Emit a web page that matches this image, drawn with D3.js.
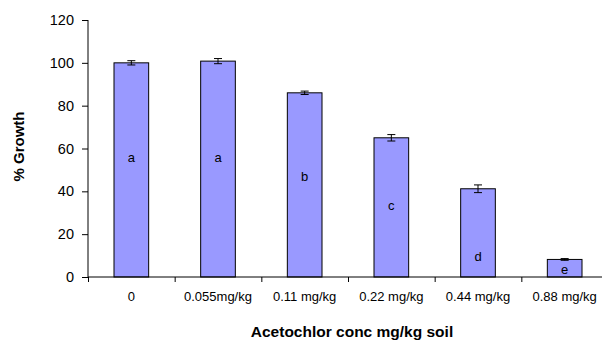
<!DOCTYPE html>
<html>
<head>
<meta charset="utf-8">
<script src="https://cdn.jsdelivr.net/npm/d3@7"></script>
<style>
  body { margin: 0; background: #fff; }
  text { font-family: "Liberation Sans", Arial, sans-serif; }
</style>
</head>
<body>
<div id="graph"></div>
<script>
var categories = ["0", "0.055mg/kg", "0.11 mg/kg", "0.22 mg/kg", "0.44 mg/kg", "0.88 mg/kg"],
    growth = [100, 100.8, 86, 65, 41.2, 8.2],
    errors = [1, 1.2, 0.8, 1.5, 1.8, 0.4],
    letters = ["a", "a", "b", "c", "d", "e"],
    letterPos = [56, 56, 47, 33.5, 9.5, 3.7],
    yTicks = [0, 20, 40, 60, 80, 100, 120];

var margin = {top: 20, right: -6, bottom: 63, left: 88},
    width = 602 - margin.left - margin.right,
    height = 340 - margin.top - margin.bottom;

var svg = d3.select("#graph").append("svg")
    .attr("width", 602)
    .attr("height", 340)
  .append("g")
    .attr("transform", "translate(" + margin.left + "," + margin.top + ")");

var x = d3.scaleBand()
    .domain(categories)
    .range([0, width])
    .paddingInner(0.6)
    .paddingOuter(0.3);

var xAxisScale = d3.scaleLinear().domain([0, categories.length]).range([0, width]);

var y = d3.scaleLinear()
    .domain([0, 120])
    .range([height, 0]);

var data = d3.zip(categories, growth, errors, letters, letterPos).map(function(d) {
  return {cat: d[0], v: d[1], err: d[2], letter: d[3], lp: d[4]};
});

// bars
svg.selectAll(".bar")
    .data(data)
  .enter().append("rect")
    .attr("class", "bar")
    .attr("x", function(d) { return x(d.cat); })
    .attr("width", x.bandwidth())
    .attr("y", function(d) { return y(d.v); })
    .attr("height", function(d) { return height - y(d.v); })
    .attr("fill", "#9999ff")
    .attr("stroke", "#000")
    .attr("stroke-width", 1);

// error bars
var eb = svg.selectAll(".err")
    .data(data)
  .enter().append("g")
    .attr("class", "err")
    .attr("stroke", "#000")
    .attr("stroke-width", 1);

eb.append("line")
    .attr("x1", function(d) { return x(d.cat) + x.bandwidth() / 2; })
    .attr("x2", function(d) { return x(d.cat) + x.bandwidth() / 2; })
    .attr("y1", function(d) { return y(d.v + d.err); })
    .attr("y2", function(d) { return y(d.v - d.err); });

[1, -1].forEach(function(s) {
  eb.append("line")
      .attr("x1", function(d) { return x(d.cat) + x.bandwidth() / 2 - 4; })
      .attr("x2", function(d) { return x(d.cat) + x.bandwidth() / 2 + 4; })
      .attr("y1", function(d) { return y(d.v + s * d.err); })
      .attr("y2", function(d) { return y(d.v + s * d.err); });
});

// letters
svg.selectAll(".letter")
    .data(data)
  .enter().append("text")
    .attr("class", "letter")
    .attr("x", function(d) { return x(d.cat) + x.bandwidth() / 2; })
    .attr("y", function(d) { return y(d.lp); })
    .attr("dy", "0.35em")
    .attr("text-anchor", "middle")
    .style("font-size", "13px")
    .text(function(d) { return d.letter; });

// y axis
var yAxis = svg.append("g")
    .call(d3.axisLeft(y).tickValues(yTicks).tickSize(6).tickPadding(8));
yAxis.selectAll("text").style("font-size", "14.5px").attr("fill", "#000");
yAxis.select(".domain").attr("d", "M0," + y(120) + "V" + height);

// x axis
var xAxis = svg.append("g")
    .attr("transform", "translate(0," + height + ")")
    .call(d3.axisBottom(xAxisScale).tickValues(d3.range(categories.length + 1)).tickSize(5).tickFormat(""));
xAxis.select(".domain").attr("d", "M0,0H" + width);

svg.append("g").selectAll("text")
    .data(categories)
  .enter().append("text")
    .attr("x", function(d) { return x(d) + x.bandwidth() / 2; })
    .attr("y", height + 19)
    .attr("dy", "0.35em")
    .attr("text-anchor", "middle")
    .style("font-size", "13px")
    .text(function(d) { return d; });

// titles
svg.append("text")
    .attr("x", 264)
    .attr("y", height + 55)
    .attr("dy", "0.35em")
    .attr("text-anchor", "middle")
    .style("font-size", "15.5px")
    .style("font-weight", "bold")
    .text("Acetochlor conc mg/kg soil");

svg.append("text")
    .attr("transform", "translate(" + (-69) + "," + (y(60) - 2) + ") rotate(-90)")
    .attr("dy", "0.35em")
    .attr("text-anchor", "middle")
    .style("font-size", "15px")
    .style("font-weight", "bold")
    .text("% Growth");
</script>
</body>
</html>
